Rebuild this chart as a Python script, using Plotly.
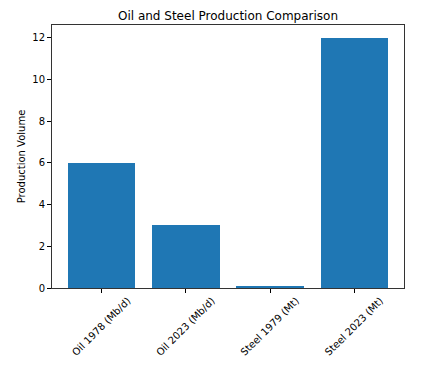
import plotly.graph_objects as go

categories = ["Oil 1978 (Mb/d)", "Oil 2023 (Mb/d)", "Steel 1979 (Mt)", "Steel 2023 (Mt)"]
values = [6, 3, 0.1, 12]
y_ticks = [0, 2, 4, 6, 8, 10, 12]

fig = go.Figure(go.Bar(x=list(range(len(categories))), y=values, width=0.8,
                       marker=dict(color="#1f77b4", line=dict(width=0))))

font = "DejaVu Sans, sans-serif"
fig.update_layout(
    width=421, height=368,
    margin=dict(l=44, r=25, t=17, b=88, autoexpand=False),
    paper_bgcolor="white", plot_bgcolor="white",
    font=dict(family=font, size=10, color="black"),
    title=dict(text="Oil and Steel Production Comparison", x=0.5, xref="paper",
               xanchor="center", y=1, yref="paper", yanchor="bottom", pad=dict(b=5),
               font=dict(family=font, size=12, color="black")),
    showlegend=False,
    bargap=0,
)
fig.update_xaxes(range=[-0.59, 3.59], tickmode="array", tickvals=list(range(len(categories))),
                 ticktext=categories, tickangle=-45, ticks="outside", ticklen=4,
                 tickcolor="black", showline=True, linecolor="#333", linewidth=1,
                 mirror=True, showgrid=False, zeroline=False, ticklabelshift=26,
                 ticklabelstandoff=-2)
fig.update_yaxes(range=[0, 12.6], tickmode="array", tickvals=y_ticks, ticks="outside",
                 ticklen=4, tickcolor="black", showline=True, linecolor="#333", linewidth=1,
                 mirror=True, showgrid=False, zeroline=False,
                 title=dict(text="Production Volume", standoff=4, font=dict(size=10)))

fig.write_html("out.html")
